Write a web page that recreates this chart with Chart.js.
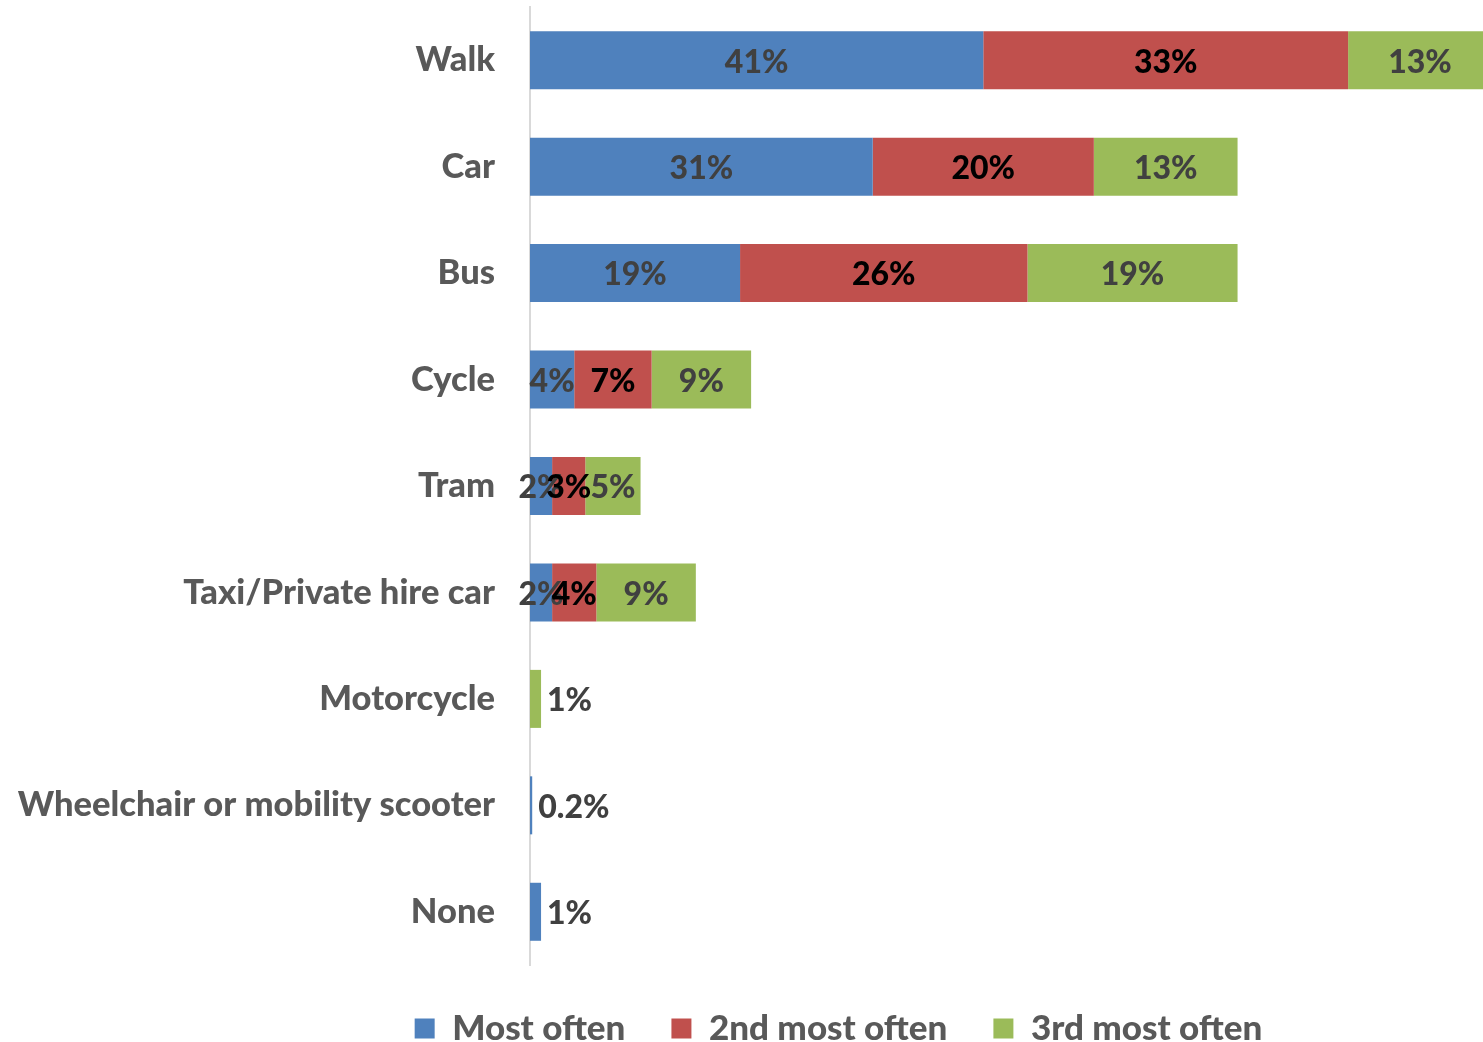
<!DOCTYPE html>
<html>
<head>
<meta charset="utf-8">
<script src="https://cdn.jsdelivr.net/npm/chart.js@4"></script>
<style>
  html, body { margin: 0; padding: 0; background: #fff; }
  #wrap { width: 1483px; height: 1042px; }
</style>
</head>
<body>
<div id="wrap"><canvas id="modeChart"></canvas></div>
<script>
// Transport modes, in display order
const modes = ['Walk', 'Car', 'Bus', 'Cycle', 'Tram', 'Taxi/Private hire car', 'Motorcycle', 'Wheelchair or mobility scooter', 'None'];
const mostOften = [41, 31, 19, 4, 2, 2, 0, 0.2, 1];
const secondMost = [33, 20, 26, 7, 3, 4, 0, 0, 0];
const thirdMost = [13, 13, 19, 9, 5, 9, 1, 0, 0];
const seriesNames = ['Most often', '2nd most often', '3rd most often'];

const FONT = 'Lato, "Open Sans", sans-serif';

// draws the % labels on the segments (small end segments get the label after the bar)
const barLabels = {
    id: 'barLabels',
    afterDatasetsDraw(chart) {
        const ctx = chart.ctx;
        ctx.save();
        ctx.font = '900 32px ' + FONT;
        ctx.textBaseline = 'middle';
        chart.data.datasets.forEach((ds, di) => {
            const meta = chart.getDatasetMeta(di);
            meta.data.forEach((bar, i) => {
                const v = ds.data[i];
                if (!v) return;
                const txt = v + '%';
                ctx.fillStyle = ds.labelColor;
                let isLast = true;
                for (let k = di + 1; k < chart.data.datasets.length; k++) {
                    if (chart.data.datasets[k].data[i]) isLast = false;
                }
                const w = Math.abs(bar.x - bar.base);
                if (isLast && w < 15) {
                    ctx.textAlign = 'left';
                    ctx.fillText(txt, bar.x + 6, bar.y + 2);
                } else {
                    ctx.textAlign = 'center';
                    ctx.fillText(txt, (bar.x + bar.base) / 2, bar.y + 2);
                }
            });
        });
        ctx.restore();
    }
};

// legend in the original sits a bit right of the canvas centre
const legendShift = {
    id: 'legendShift',
    afterLayout(chart) {
        chart.legend.left += 97;
        chart.legend.right += 97;
    }
};

const ctx = document.getElementById('modeChart').getContext('2d');
new Chart(ctx, {
    type: 'bar',
    data: {
        labels: modes,
        datasets: [{
            label: seriesNames[0],
            data: mostOften,
            backgroundColor: '#4F81BD',
            labelColor: '#404040'
        }, {
            label: seriesNames[1],
            data: secondMost,
            backgroundColor: '#C0504D',
            labelColor: '#000000'
        }, {
            label: seriesNames[2],
            data: thirdMost,
            backgroundColor: '#9BBB59',
            labelColor: '#404040'
        }]
    },
    options: {
        indexAxis: 'y',
        responsive: true,
        maintainAspectRatio: false,
        animation: false,
        barPercentage: 0.545,
        categoryPercentage: 1,
        layout: { padding: { top: 7, right: 0, left: 0, bottom: -14 } },
        scales: {
            x: {
                stacked: true,
                display: false,
                min: 0,
                max: 86.2
            },
            y: {
                stacked: true,
                grid: { display: false, drawTicks: false },
                border: { color: '#d9d9d9', width: 2 },
                ticks: {
                    color: '#595959',
                    padding: 35,
                    font: { family: FONT, size: 34.5, weight: '900' }
                },
                afterFit: s => { s.width = 530; s.paddingTop = 0; s.paddingBottom = 0; }
            }
        },
        plugins: {
            legend: {
                position: 'bottom',
                labels: {
                    boxWidth: 20,
                    boxHeight: 20,
                    padding: 46,
                    color: '#595959',
                    font: { family: FONT, size: 35, weight: '900' }
                }
            },
            tooltip: { enabled: false }
        }
    },
    plugins: [barLabels, legendShift]
});
</script>
</body>
</html>
